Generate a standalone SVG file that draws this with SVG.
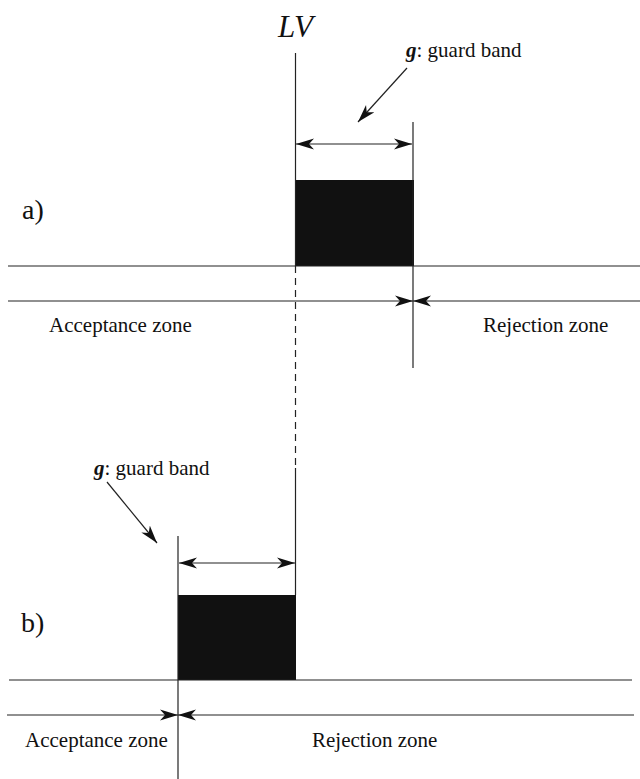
<svg xmlns="http://www.w3.org/2000/svg" width="640" height="779" viewBox="0 0 640 779">
<style>
.ln{stroke:#222;stroke-width:1.2;fill:none}
.t{font-family:"Liberation Serif","Times New Roman",serif;font-size:21px;fill:#111}
.lbl{font-family:"Liberation Serif","Times New Roman",serif;font-size:28px;fill:#111}
.band{fill:#111}
</style>
<defs>
<marker id="ah" markerUnits="userSpaceOnUse" markerWidth="18" markerHeight="12" refX="18" refY="6" orient="auto-start-reverse" viewBox="0 0 18 12">
<path d="M0,0.5 L18,6 L0,11.5 L5,6 z" fill="#111"/>
</marker>
</defs>
<g id="lv-label"><text x="278" y="37" style="font-family:'Liberation Serif','Times New Roman',serif;font-size:31px;font-style:italic;fill:#111">LV</text></g>
<g id="panel-a">
<text class="lbl" x="22" y="219">a)</text>
<rect class="band" x="295" y="180" width="119" height="86"/>
<text class="t" x="406" y="57"><tspan font-weight="bold" font-style="italic">g</tspan>: guard band</text>
<text class="t" x="49" y="332">Acceptance zone</text>
<text class="t" x="483" y="332">Rejection zone</text>
</g>
<g id="panel-b">
<text class="lbl" x="21" y="632">b)</text>
<rect class="band" x="178" y="595" width="118" height="85"/>
<text class="t" x="94" y="475"><tspan font-weight="bold" font-style="italic">g</tspan>: guard band</text>
<text class="t" x="25" y="747">Acceptance zone</text>
<text class="t" x="312" y="747">Rejection zone</text>
</g>
<g id="connectors">
<line class="ln" x1="295.5" y1="53" x2="295.5" y2="266"/>
<line class="ln" x1="295.5" y1="266" x2="295.5" y2="468" stroke-dasharray="7,5"/>
<line class="ln" x1="295.5" y1="468" x2="295.5" y2="595"/>
<line class="ln" x1="413" y1="122" x2="413" y2="368"/>
<line class="ln" x1="296" y1="144" x2="412" y2="144" marker-start="url(#ah)" marker-end="url(#ah)"/>
<line class="ln" x1="407" y1="68" x2="358" y2="122" marker-end="url(#ah)"/>
<line class="ln" x1="8" y1="266" x2="640" y2="266"/>
<line class="ln" x1="8" y1="301" x2="413" y2="301" marker-end="url(#ah)"/>
<line class="ln" x1="640" y1="301" x2="413" y2="301" marker-end="url(#ah)"/>
<line class="ln" x1="178" y1="536" x2="178" y2="779"/>
<line class="ln" x1="179" y1="563" x2="295" y2="563" marker-start="url(#ah)" marker-end="url(#ah)"/>
<line class="ln" x1="107" y1="482" x2="157" y2="543" marker-end="url(#ah)"/>
<line class="ln" x1="9" y1="680" x2="632" y2="680"/>
<line class="ln" x1="7" y1="715" x2="178" y2="715" marker-end="url(#ah)"/>
<line class="ln" x1="634" y1="715" x2="178" y2="715" marker-end="url(#ah)"/>
</g>
</svg>
